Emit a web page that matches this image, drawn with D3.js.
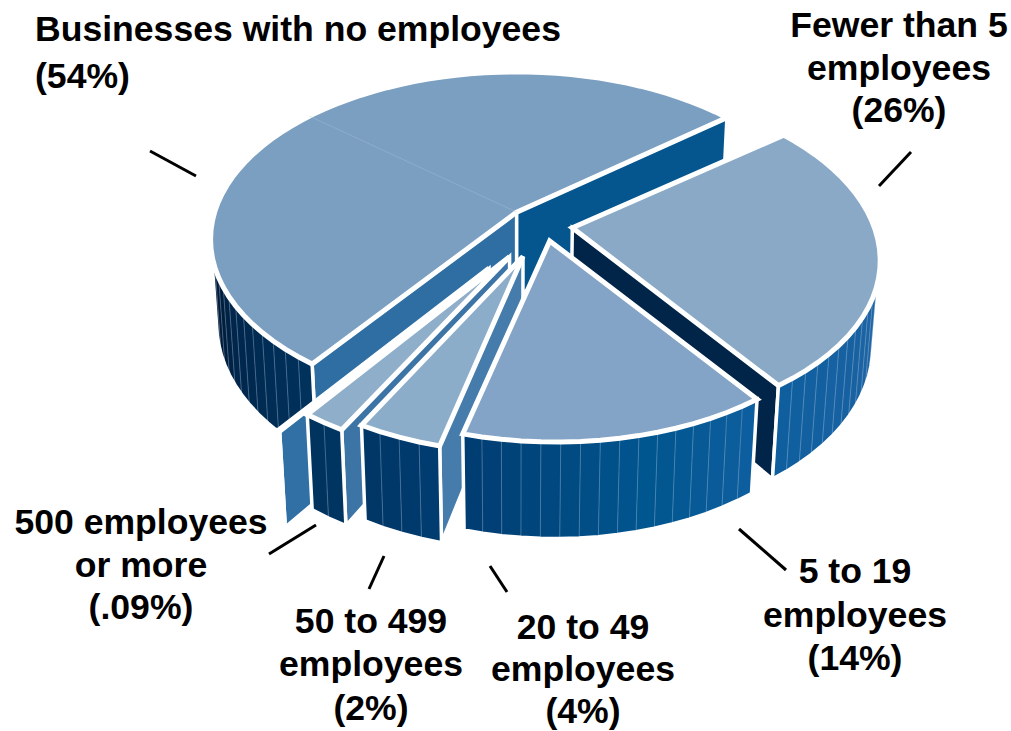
<!DOCTYPE html>
<html>
<head>
<meta charset="utf-8">
<script src="https://cdn.jsdelivr.net/npm/d3@7/dist/d3.min.js"></script>
<style>
html,body{margin:0;padding:0;background:#fff}
svg{display:block}
text{font-family:"Liberation Sans",Arial,sans-serif;font-weight:700;font-size:35.6px;fill:#000}
</style>
</head>
<body>
<svg id="chart" width="1011" height="731"></svg>
<script>
// Share of businesses by number of employees
const categories = ["Businesses with no employees","Fewer than 5 employees","5 to 19 employees","20 to 49 employees","50 to 499 employees","500 employees or more"];
const shares = [54, 26, 14, 4, 2, 0.09];
const shareLabels = ["(54%)","(26%)","(14%)","(4%)","(2%)","(.09%)"];
const labelLines = [
  ["Businesses with no employees"],
  ["Fewer than 5","employees"],
  ["5 to 19","employees"],
  ["20 to 49","employees"],
  ["50 to 499","employees"],
  ["500 employees","or more"]
];

const rad = Math.PI / 180;
const svg = d3.select("#chart");

// Camera: a unit disc on the plane seen in perspective, extruded downward
const cam = {cx: 517, cy: 212, rx: 302, ry: 163, k: 0.163, depth: 85, m: 0.02};
const project = (u, v, z) => {
  const w = 1 - cam.k * v + cam.m * z;
  return [cam.cx + cam.rx * u / w, cam.cy + (cam.ry * v + cam.depth * z) / w];
};

// Per-slice pull-out from the hub, radius and small turn of the rim
const hub = [0.088, 0.084];
const pullOut = [0.122, 0.093, 0.09, 0.19, 0.21, 0.30];
const radius = [1, 0.985, 0.975, 0.93, 0.95, 0.955];
const turnDeg = [0, 1.8, 0.9, 0, 0, 0];
const topFill = ["#7a9fc1", "#89a9c6", "#83a4c6", "#8cadc9", "#8eaec9", "#8eaec9"];
const cutFill = [
  ["#2f6ea3", "#05568f"],
  ["#05568f", "#002548"],
  ["#467cab", "#002548"],
  ["#467cab", "#00345f"],
  ["#3c74a6", "#00345f"],
  ["#3070a5", "#00345f"]
];
// Outer wall shade, by angle clockwise from the far side of the disc
const wallShade = d3.scaleLinear()
  .domain([90, 120, 145, 165, 195, 215, 240, 255, 275])
  .range(["#2a6bab", "#1a62a2", "#0e5f9f", "#00568f", "#003c71", "#00335e", "#00264b", "#00142d", "#00081a"])
  .clamp(true);

const pieLayout = d3.pie().sort(null).startAngle(-144 * rad).endAngle(216 * rad);
const arcs = pieLayout(shares);

const facetStep = 3.2 * rad;
const pathOf = pts => "M" + pts.map(p => p[0].toFixed(2) + "," + p[1].toFixed(2)).join("L") + "Z";

const slices = arcs.map((a, i) => {
  const mid = (a.startAngle + a.endAngle) / 2;
  const ax = hub[0] + pullOut[i] * Math.sin(mid);
  const ay = hub[1] - pullOut[i] * Math.cos(mid);
  const rim = [];
  const n = Math.max(1, Math.round((a.endAngle - a.startAngle) / facetStep));
  for (let j = 0; j <= n; j++) {
    const t = a.startAngle + (a.endAngle - a.startAngle) * j / n + turnDeg[i] * rad;
    rim.push({t, u: ax + radius[i] * Math.sin(t), v: ay - radius[i] * Math.cos(t)});
  }
  return {i, a, mid, ax, ay, rim};
});

// Far to near so that nearer slices cover the ones behind them
const paintOrder = [0, 1, 5, 4, 3, 2];

paintOrder.forEach(idx => {
  const s = slices[idx];
  const g = svg.append("g").attr("class", "slice");
  const apex = {u: s.ax, v: s.ay};

  const quad = (P, Q) => [project(P.u, P.v, 0), project(Q.u, Q.v, 0), project(Q.u, Q.v, 1), project(P.u, P.v, 1)];
  const faces = (P, Q) => d3.polygonArea(quad(P, Q)) > 0;

  // Flat cut faces running from the apex out to the rim
  const first = s.rim[0], last = s.rim[s.rim.length - 1];
  [[apex, first, 0], [last, apex, 1]].forEach(([P, Q, side]) => {
    if (faces(P, Q)) {
      g.append("path").attr("d", pathOf(quad(P, Q)))
        .attr("fill", cutFill[idx][side])
        .attr("stroke", "#fff").attr("stroke-width", 3.5).attr("stroke-linejoin", "miter");
    }
  });

  // Outer wall facets, only those turned toward the viewer
  const visible = [];
  for (let j = 0; j < s.rim.length - 1; j++) {
    const P = s.rim[j], Q = s.rim[j + 1];
    if (faces(P, Q)) visible.push([P, Q]);
  }
  visible.forEach(([P, Q]) => {
    const mean = ((P.t + Q.t) / 2 / rad + 360) % 360;
    const col = wallShade(mean);
    g.append("path").attr("d", pathOf(quad(P, Q))).attr("fill", col).attr("stroke", col).attr("stroke-width", 0.6);
  });
  visible.slice(1).forEach(([P]) => {
    const a = project(P.u, P.v, 0), b = project(P.u, P.v, 1);
    g.append("line").attr("x1", a[0]).attr("y1", a[1]).attr("x2", b[0]).attr("y2", b[1])
      .attr("stroke", "#a9c3dc").attr("stroke-opacity", 0.42).attr("stroke-width", 0.9);
  });
  if (visible.length) {
    const top = visible.map(([P]) => project(P.u, P.v, 0));
    const e = visible[visible.length - 1][1];
    top.push(project(e.u, e.v, 0));
    const bottom = visible.map(([P]) => project(P.u, P.v, 1));
    bottom.push(project(e.u, e.v, 1));
    g.append("path").attr("d", pathOf(top.concat(bottom.reverse())))
      .attr("fill", "none").attr("stroke", "#fff").attr("stroke-width", 3.5);
  }

  // Top surface
  const topPts = [project(apex.u, apex.v, 0)].concat(s.rim.map(r => project(r.u, r.v, 0)));
  g.append("path").attr("d", pathOf(topPts))
    .attr("fill", topFill[idx]).attr("stroke", "#fff").attr("stroke-width", 5).attr("stroke-linejoin", "miter");

  // A slice wider than a half turn is built from two halves with a faint seam
  if (s.a.endAngle - s.a.startAngle > Math.PI) {
    const seam = s.mid - 2.5 * rad;
    const a = project(apex.u, apex.v, 0);
    const b = project(apex.u + Math.sin(seam), apex.v - Math.cos(seam), 0);
    g.append("line").attr("x1", a[0]).attr("y1", a[1]).attr("x2", b[0]).attr("y2", b[1])
      .attr("stroke", "#a9c3dc").attr("stroke-opacity", 0.5).attr("stroke-width", 0.8);
  }
});

// Leader lines between labels and slices
const leaders = [
  [[150, 151], [196, 176]],
  [[911, 152], [879, 186]],
  [[739, 529], [786, 570]],
  [[490, 566], [507, 592]],
  [[384, 556], [369, 589]],
  [[316, 525], [269, 554]]
];
svg.append("g").selectAll("line").data(leaders).join("line")
  .attr("x1", d => d[0][0]).attr("y1", d => d[0][1])
  .attr("x2", d => d[1][0]).attr("y2", d => d[1][1])
  .attr("stroke", "#000").attr("stroke-width", 3);

// Slice captions: anchor x, first baseline, line spacing and alignment for each
const captionAt = [
  {x: 35, y: 41, gap: 47, anchor: "start"},
  {x: 899, y: 37, gap: 42.5, anchor: "middle"},
  {x: 855, y: 583, gap: 43.5, anchor: "middle"},
  {x: 583, y: 639, gap: 42, anchor: "middle"},
  {x: 371, y: 632.5, gap: 43.5, anchor: "middle"},
  {x: 141, y: 534, gap: 42.5, anchor: "middle"}
];
const captions = svg.append("g");
categories.forEach((c, i) => {
  const at = captionAt[i];
  const lines = labelLines[i].concat(shareLabels[i]);
  const t = captions.append("text").attr("text-anchor", at.anchor);
  lines.forEach((l, j) => {
    t.append("tspan").attr("x", at.x).attr("y", at.y + j * at.gap).text(l);
  });
});
</script>
</body>
</html>
